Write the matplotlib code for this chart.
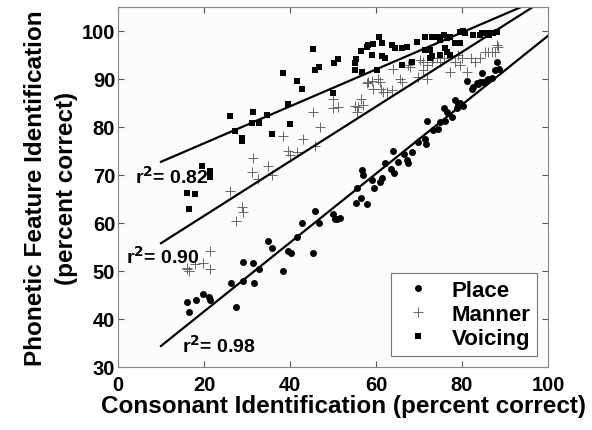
import matplotlib
matplotlib.use("Agg")
import numpy as np
import matplotlib.pyplot as plt

plt.rcParams["font.family"] = ["Liberation Sans", "DejaVu Sans"]
plt.rcParams["font.weight"] = "bold"

# Place (filled circles)
place_x = [16.1, 16.6, 18.1, 19.7, 21.2, 21.4, 26.2, 27.4, 29.0, 29.0, 31.3, 31.6,
           32.7, 34.8, 35.9, 38.4, 39.5, 40.2, 41.6, 42.9, 45.4, 45.8, 46.8, 50.1,
           50.5, 51.0, 51.6, 55.3, 55.5, 56.4, 56.8, 57.0, 57.8, 59.0, 59.5, 60.9,
           61.3, 62.1, 63.5, 64.0, 64.2, 65.0, 66.5, 67.1, 67.5, 68.3, 69.8, 71.4,
           71.6, 71.8, 73.3, 74.5, 74.9, 75.7, 76.0, 76.4, 77.6, 78.4, 78.8, 79.1,
           79.5, 80.3, 81.1, 82.3, 82.6, 83.4, 83.8, 84.2, 84.6, 84.9, 85.7, 86.1,
           86.9, 87.7, 88.1, 88.5]
place_y = [43.5, 41.4, 43.9, 45.2, 44.5, 43.9, 47.5, 42.6, 48.0, 51.8, 51.6, 47.5,
           50.5, 56.3, 54.8, 50.0, 54.1, 53.7, 57.1, 59.9, 53.8, 62.6, 60.1, 61.9,
           60.8, 60.8, 61.0, 64.2, 67.3, 65.2, 71.1, 70.1, 63.9, 68.9, 67.3, 68.6,
           69.4, 72.6, 71.2, 75.0, 70.4, 72.7, 74.3, 73.1, 72.4, 74.8, 76.9, 77.6,
           76.4, 81.3, 79.3, 79.5, 81.1, 83.9, 81.2, 83.2, 82.1, 85.6, 83.9, 84.6,
           84.9, 84.4, 89.6, 88.0, 88.4, 89.1, 88.9, 89.4, 91.3, 89.4, 89.8, 90.0,
           90.3, 91.9, 93.6, 92.1]

# Manner (plus signs)
manner_x = [16.0, 16.1, 16.6, 17.9, 19.7, 21.4, 21.4, 26.1, 27.5, 28.9, 29.0, 31.3,
            31.1, 32.6, 34.8, 35.9, 38.4, 39.6, 40.1, 41.7, 43.0, 45.4, 45.8, 47.0,
            49.9, 50.1, 51.1, 55.1, 55.5, 55.9, 56.5, 57.0, 57.8, 58.2, 59.0, 59.4,
            60.4, 61.0, 61.2, 61.7, 62.5, 63.7, 64.0, 65.6, 66.0, 67.5, 67.9, 69.8,
            70.2, 71.0, 71.0, 71.8, 71.8, 73.0, 73.3, 74.1, 74.9, 75.7, 77.2, 78.4,
            79.1, 79.5, 79.9, 81.1, 82.2, 83.0, 84.2, 85.3, 86.1, 86.9, 87.7, 88.1,
            88.4]
manner_y = [50.5, 50.6, 50.1, 51.4, 51.7, 54.1, 50.4, 66.7, 60.5, 63.4, 62.2, 73.6,
            70.6, 69.1, 71.9, 70.1, 78.2, 74.9, 74.2, 74.7, 77.4, 83.2, 76.1, 79.9,
            85.8, 84.0, 84.2, 84.4, 83.2, 84.2, 85.9, 84.6, 89.1, 89.4, 89.6, 88.0,
            90.0, 89.4, 88.0, 87.2, 87.3, 87.7, 92.1, 90.1, 89.4, 93.0, 92.6, 90.5,
            94.0, 93.6, 91.9, 93.0, 90.1, 93.6, 94.3, 94.3, 93.6, 94.3, 91.5, 93.6,
            95.0, 92.9, 94.3, 91.5, 94.3, 93.6, 94.3, 95.7, 95.7, 95.7, 95.7, 97.1,
            96.7]

# Voicing (filled squares)
voicing_x = [16.0, 16.5, 17.9, 19.6, 21.4, 21.4, 26.1, 27.2, 28.9, 28.9, 31.4, 31.2,
             32.7, 34.7, 35.7, 38.3, 39.6, 40.1, 41.6, 42.9, 45.4, 45.8, 46.8, 49.9,
             50.2, 51.2, 55.1, 55.3, 55.1, 56.6, 56.8, 57.8, 58.2, 59.4, 59.0, 60.3,
             60.8, 61.3, 61.3, 62.1, 63.7, 64.4, 66.0, 66.0, 67.1, 68.3, 69.5, 71.4,
             71.4, 72.6, 72.6, 73.0, 73.0, 74.5, 74.9, 74.9, 75.7, 76.0, 76.4, 76.4,
             77.2, 77.2, 78.4, 79.5, 79.5, 80.3, 80.7, 82.6, 84.2, 84.6, 85.7, 86.3,
             87.3, 88.1]
voicing_y = [66.3, 63.0, 66.0, 71.8, 70.8, 69.6, 82.2, 79.1, 77.8, 77.0, 83.2, 80.9,
             80.9, 82.5, 78.6, 91.2, 84.7, 80.7, 89.6, 88.0, 96.2, 91.9, 92.6, 87.0,
             93.4, 94.2, 93.3, 94.1, 91.9, 95.8, 91.4, 96.7, 97.1, 97.2, 94.9, 91.9,
             98.7, 97.6, 94.8, 94.3, 97.1, 96.5, 96.4, 93.0, 96.7, 93.6, 97.7, 98.7,
             96.1, 96.1, 94.3, 98.7, 94.7, 98.8, 98.1, 95.0, 99.2, 96.4, 98.5, 95.7,
             98.8, 95.0, 97.4, 97.6, 99.7, 99.9, 99.5, 99.2, 99.1, 99.5, 99.5, 99.1,
             99.5, 99.7]

# regression lines (slope, intercept) and r^2 labels
fits = {"Place": (0.718, 27.2), "Manner": (0.569, 50.1), "Voicing": (0.385, 68.9)}
r2_labels = {"Place": "0.98", "Manner": "0.90", "Voicing": "0.82"}
r2_pos = {"Place": (14.9, 34.6), "Manner": (1.9, 53.1), "Voicing": (3.9, 69.8)}
fit_range = (10, 100)

fig = plt.figure(figsize=(5.92, 4.31), dpi=100)
ax = fig.add_axes([118 / 592, 1 - 368 / 431, 430 / 592, 360 / 431])
ax.set_facecolor("#fcfcfc")

ax.plot(place_x, place_y, "o", color="black", ms=5.0, mew=0, label="Place")
ax.plot(manner_x, manner_y, "+", color="#666666", ms=7.5, mew=0.7, label="Manner")
ax.plot(voicing_x, voicing_y, "s", color="black", ms=3.8, mew=0, label="Voicing")

xs = np.array(fit_range, dtype=float)
for name, (m, b) in fits.items():
    ax.plot(xs, m * xs + b, color="black", lw=1.6)
    ax.text(*r2_pos[name], "r$^2$= " + r2_labels[name], fontsize=14,
            fontweight="bold", va="center", ha="left")

ax.set_xlim(0, 100)
ax.set_ylim(30, 105)
ax.set_xticks([0, 20, 40, 60, 80, 100])
ax.set_yticks([30, 40, 50, 60, 70, 80, 90, 100])
ax.tick_params(direction="in", top=True, right=True, labelsize=14.5,
               length=4, color="#555555")
ax.tick_params(axis="x", pad=6)
ax.tick_params(axis="y", pad=2)
for lab in ax.get_xticklabels() + ax.get_yticklabels():
    lab.set_fontweight("bold")
for sp in ax.spines.values():
    sp.set_color("#888888")
    sp.set_linewidth(0.8)

ax.set_xlabel("Consonant Identification (percent correct)", fontsize=17.5,
              fontweight="bold", labelpad=1)
ax.xaxis.set_label_coords(0.525, -0.075)
ax.set_ylabel("Phonetic Feature Identification\n(percent correct)", fontsize=17.5,
              fontweight="bold", labelpad=3, linespacing=1.4)

leg = ax.legend(loc="lower right", handletextpad=0.6,
                borderpad=0.3, labelspacing=0.15, handlelength=1.8,
                fancybox=False, framealpha=1, borderaxespad=0.5,
                prop={"weight": "bold", "size": 16})
leg.get_frame().set_edgecolor("#777777")
leg.get_frame().set_linewidth(0.8)

fig.savefig("out.png", dpi=100, facecolor="white")
